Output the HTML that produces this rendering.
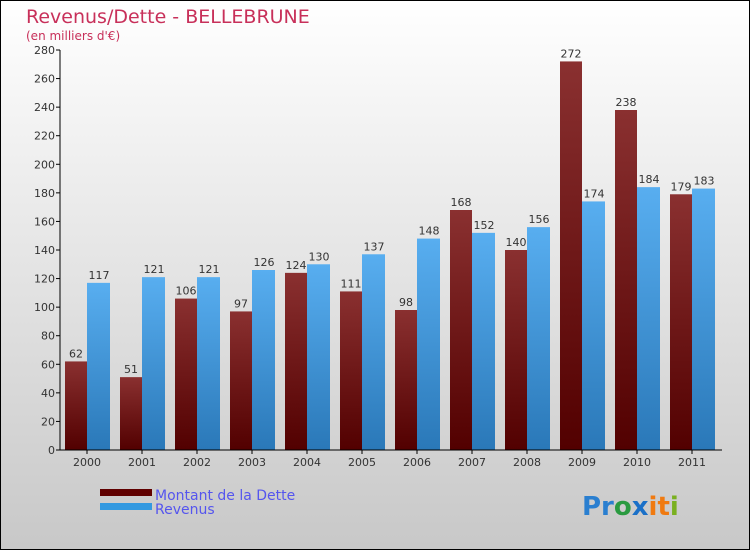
<!DOCTYPE html>
<html><head><meta charset="utf-8"><style>
body{margin:0}
svg{display:block;font-family:"DejaVu Sans","Liberation Sans",sans-serif}
</style></head><body>
<svg width="750" height="550" xmlns="http://www.w3.org/2000/svg">
<defs>
<linearGradient id="bg" x1="0" y1="0" x2="0" y2="1"><stop offset="0" stop-color="#ffffff"/><stop offset="1" stop-color="#c8c8c8"/></linearGradient>
<linearGradient id="gd" x1="0" y1="0" x2="0" y2="1"><stop offset="0" stop-color="#8a3030"/><stop offset="1" stop-color="#520000"/></linearGradient>
<linearGradient id="gr" x1="0" y1="0" x2="0" y2="1"><stop offset="0" stop-color="#58aef0"/><stop offset="1" stop-color="#2a78b8"/></linearGradient>
</defs>
<rect x="0.5" y="0.5" width="749" height="549" fill="url(#bg)" stroke="#000"/>
<text x="26" y="23" font-size="19" fill="#c8305a">Revenus/Dette - BELLEBRUNE</text>
<text x="26" y="40" font-size="12" fill="#c8305a">(en milliers d'€)</text>
<g id="plot"></g>
<rect x="100" y="489" width="52" height="7" fill="#600000"/>
<rect x="100" y="503" width="52" height="7" fill="#3399e0"/>
<text x="155" y="500" font-size="14" fill="#5555ee">Montant de la Dette</text>
<text x="155" y="514" font-size="14" fill="#5555ee">Revenus</text>
<text x="582" y="515" font-size="26" font-weight="bold"><tspan fill="#2a7fd0">Pr</tspan><tspan fill="#2a9a40">o</tspan><tspan fill="#1a70c8">x</tspan><tspan fill="#f07a10">it</tspan><tspan fill="#7ab020">i</tspan></text>
</svg>
<script>
const years=["2000","2001","2002","2003","2004","2005","2006","2007","2008","2009","2010","2011"];
const dette=[62,51,106,97,124,111,98,168,140,272,238,179];
const revenus=[117,121,121,126,130,137,148,152,156,174,184,183];
const yTicks=[0,20,40,60,80,100,120,140,160,180,200,220,240,260,280];
const g=document.getElementById('plot');
const NS='http://www.w3.org/2000/svg';
const x0=60,step=55,y0=450,yTop=50,yMax=280;
const y=v=>y0-(v/yMax)*(y0-yTop);
function mk(t,a){const e=document.createElementNS(NS,t);for(const k in a)e.setAttribute(k,a[k]);g.appendChild(e);return e;}
yTicks.forEach(t=>{
 const l=mk('line',{x1:x0-4,x2:x0,y1:y(t),y2:y(t),stroke:'#000'});
 
 
 const tx=mk('text',{x:x0-5,y:y(t)+4,'font-size':11,fill:'#333','text-anchor':'end'});
 tx.textContent=t;
 
 
});
years.forEach((yr,i)=>{
 const gx=x0+i*step;
 const b1=mk('rect',{x:gx+5,y:y(dette[i]),width:22,height:y0-y(dette[i]),fill:'url(#gd)'});
 
 
 const b2=mk('rect',{x:gx+27,y:y(revenus[i]),width:23,height:y0-y(revenus[i]),fill:'url(#gr)'});
 
 
 const v1=mk('text',{x:gx+16,y:y(dette[i])-4,'font-size':11,fill:'#333','text-anchor':'middle'});
 v1.textContent=dette[i];
 
 
 const v2=mk('text',{x:gx+39,y:y(revenus[i])-4,'font-size':11,fill:'#333','text-anchor':'middle'});
 v2.textContent=revenus[i];
 
 
 const xt=mk('line',{x1:gx+27,x2:gx+27,y1:y0,y2:y0+4,stroke:'#000'});
 
 
 const xl=mk('text',{x:gx+27,y:y0+16,'font-size':11,fill:'#333','text-anchor':'middle'});
 xl.textContent=yr;
 
 
});
const ya=mk('line',{x1:x0,x2:x0,y1:yTop,y2:y0,stroke:'#000'});


const xa=mk('line',{x1:x0,x2:722,y1:y0,y2:y0,stroke:'#000'});


</script>
</body></html>
